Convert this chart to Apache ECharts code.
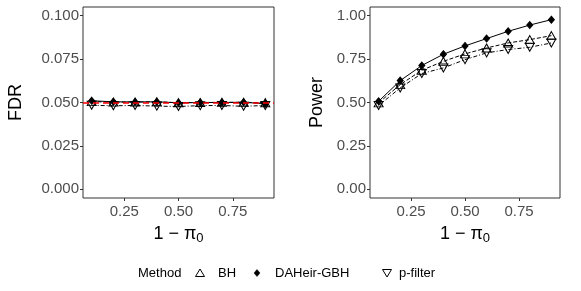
<!DOCTYPE html>
<html><head><meta charset="utf-8">
<script src="https://cdn.jsdelivr.net/npm/echarts@6/dist/echarts.min.js"></script>
<style>html,body{margin:0;padding:0;background:#fff}#c{width:581px;height:291px}</style>
</head><body><div id="c"></div>
<script>
const xValues = [0.1, 0.2, 0.3, 0.4, 0.5, 0.6, 0.7, 0.8, 0.9];
const methods = ['BH', 'DAHeir-GBH', 'p-filter'];
const fdrBH      = [0.0505, 0.0502, 0.0503, 0.0504, 0.0499, 0.0500, 0.0501, 0.0501, 0.0499];
const fdrDAHeir  = [0.0510, 0.0504, 0.0503, 0.0504, 0.0498, 0.0500, 0.0500, 0.0501, 0.0493];
const fdrPfilter = [0.0484, 0.0481, 0.0483, 0.0479, 0.0477, 0.0482, 0.0483, 0.0478, 0.0483];
const powerBH      = [0.498, 0.603, 0.686, 0.737, 0.780, 0.814, 0.843, 0.862, 0.885];
const powerDAHeir  = [0.507, 0.626, 0.713, 0.778, 0.826, 0.868, 0.910, 0.946, 0.977];
const powerPfilter = [0.483, 0.584, 0.667, 0.699, 0.747, 0.786, 0.805, 0.818, 0.843];
const fdrTarget = 0.05;
const xTicks = [0.25, 0.5, 0.75];
const fdrTicks = [0, 0.025, 0.05, 0.075, 0.1];
const powerTicks = [0, 0.25, 0.5, 0.75, 1];

const FONT = "'Liberation Sans', Arial, sans-serif";
const pairs = v => xValues.map((x, i) => [x, v[i]]);

const styles = {
  'BH':         { symbol: 'triangle', symbolSize: [9, 8], rotate: 0, fill: 'rgba(0,0,0,0)', dash: [4, 2] },
  'DAHeir-GBH': { symbol: 'diamond',  symbolSize: [6, 7], rotate: 0, fill: '#000', dash: 'solid' },
  'p-filter':   { symbol: 'triangle', symbolSize: [9, 8], rotate: 180, fill: 'rgba(0,0,0,0)', dash: [4, 2, 1, 2] }
};

function mkSeries(name, data, gi) {
  const s = styles[name];
  return {
    type: 'line', name, xAxisIndex: gi, yAxisIndex: gi,
    data: pairs(data), symbol: s.symbol, symbolSize: s.symbolSize, symbolRotate: s.rotate,
    showSymbol: true, silent: true, animation: false,
    lineStyle: { color: '#000', width: 1, type: s.dash },
    itemStyle: { color: s.fill, borderColor: '#000', borderWidth: 1 }
  };
}

function xAxis(gi) {
  return {
    type: 'value', gridIndex: gi, min: 0.06, max: 0.94,
    splitLine: { show: false },
    axisLine: { show: false, onZero: false },
    axisTick: { show: true, length: 3, lineStyle: { color: '#333' }, customValues: xTicks },
    axisLabel: { customValues: xTicks, color: '#4d4d4d', fontSize: 15, fontFamily: FONT, margin: 6,
                 formatter: v => v.toFixed(2) },
    name: '{a|1 − π}{s|0}', nameLocation: 'middle', nameGap: 26,
    nameTextStyle: { rich: {
      a: { fontSize: 18, fontFamily: FONT, color: '#000' },
      s: { fontSize: 13, fontFamily: FONT, color: '#000', verticalAlign: 'bottom', padding: [8, 0, 0, 0] }
    } }
  };
}
function yAxis(gi, min, max, ticks, dec, name) {
  return {
    type: 'value', gridIndex: gi, min, max,
    splitLine: { show: false },
    axisLine: { show: false, onZero: false },
    axisTick: { show: true, length: 3, lineStyle: { color: '#333' }, customValues: ticks },
    axisLabel: { customValues: ticks, color: '#4d4d4d', fontSize: 15, fontFamily: FONT, margin: 4,
                 formatter: v => v.toFixed(dec) },
    name, nameLocation: 'middle', nameRotate: 90, nameGap: dec === 3 ? 58 : 44,
    nameTextStyle: { fontSize: 18, fontFamily: FONT, color: '#000' }
  };
}

const legendY = 273;
const triUp = (cx, cy) => [[cx - 4.5, cy + 3.5], [cx + 4.5, cy + 3.5], [cx, cy - 4]];
const triDn = (cx, cy) => [[cx - 4.5, cy - 3.5], [cx + 4.5, cy - 3.5], [cx, cy + 4]];
const dia = (cx, cy) => [[cx, cy - 3.5], [cx + 3, cy], [cx, cy + 3.5], [cx - 3, cy]];
const legText = (x, t) => ({ type: 'text', x, y: legendY, style: { text: t, fontSize: 13, fontFamily: FONT, fill: '#000', textVerticalAlign: 'middle' } });

const chart = echarts.init(document.getElementById('c'), null, { renderer: 'canvas' });
chart.setOption({
  backgroundColor: '#fff',
  animation: false,
  grid: [
    { left: 83, top: 7, width: 191, height: 191, show: true, borderColor: '#333', borderWidth: 1, backgroundColor: '#fff' },
    { left: 370, top: 7, width: 190, height: 191, show: true, borderColor: '#333', borderWidth: 1, backgroundColor: '#fff' }
  ],
  xAxis: [xAxis(0), xAxis(1)],
  yAxis: [
    yAxis(0, -0.005, 0.105, fdrTicks, 3, 'FDR'),
    yAxis(1, -0.05, 1.05, powerTicks, 2, 'Power')
  ],
  series: [
    mkSeries(methods[0], fdrBH, 0),
    mkSeries(methods[1], fdrDAHeir, 0),
    mkSeries(methods[2], fdrPfilter, 0),
    {
      type: 'line', xAxisIndex: 0, yAxisIndex: 0, data: [], z: 10, silent: true,
      markLine: { silent: true, symbol: 'none', label: { show: false }, animation: false,
        lineStyle: { color: '#ff0000', width: 1.6, type: [6, 4] },
        data: [{ yAxis: fdrTarget }] }
    },
    mkSeries(methods[0], powerBH, 1),
    mkSeries(methods[1], powerDAHeir, 1),
    mkSeries(methods[2], powerPfilter, 1)
  ],
  graphic: [
    legText(138, 'Method'),
    { type: 'polygon', shape: { points: triUp(200, legendY) }, style: { fill: 'none', stroke: '#000', lineWidth: 1 } },
    legText(218, methods[0]),
    { type: 'polygon', shape: { points: dia(257, legendY) }, style: { fill: '#000', stroke: '#000', lineWidth: 0.5 } },
    legText(275, methods[1]),
    { type: 'polygon', shape: { points: triDn(387, legendY) }, style: { fill: 'none', stroke: '#000', lineWidth: 1 } },
    legText(399, methods[2])
  ]
});
</script>
</body></html>
